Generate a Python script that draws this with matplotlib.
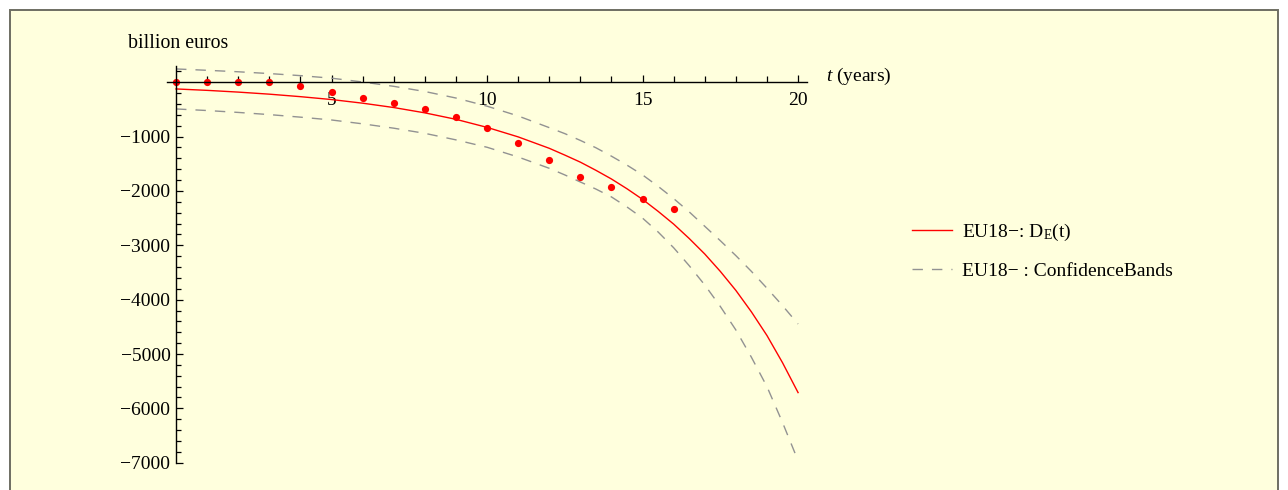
import matplotlib
matplotlib.use("Agg")
import matplotlib.pyplot as plt
from matplotlib.patches import Rectangle
from matplotlib.ticker import FixedLocator

# data (billion euros)
years = [0, 1, 2, 3, 4, 5, 6, 7, 8, 9, 10, 11, 12, 12.5, 13, 13.5, 14, 14.5,
         15, 15.5, 16, 16.5, 17, 17.5, 18, 18.5, 19, 19.5, 20]
fit_curve = [-123, -149, -181, -219, -265, -318, -385, -465, -563, -682, -830,
             -1005, -1215, -1340, -1470, -1620, -1780, -1960, -2155, -2375,
             -2610, -2875, -3160, -3480, -3830, -4225, -4660, -5160, -5710]
upper_band = [245, 220, 193, 160, 122, 75, 5, -75, -170, -290, -440,
              -620, -835, -945, -1070, -1205, -1360, -1525, -1705, -1915,
              -2140, -2385, -2650, -2915, -3190, -3480, -3790, -4110, -4448]
lower_band = [-491, -520, -555, -595, -642, -694, -765, -845, -940, -1060, -1196,
              -1375, -1583, -1705, -1835, -1965, -2110, -2295, -2500, -2755,
              -3045, -3375, -3730, -4125, -4558, -5060, -5601, -6260, -6963]

obs_years = list(range(0, 17))
obs_debt = [0, 0, 0, 0, -62, -184, -289, -387, -497, -645, -847,
            -1117, -1430, -1749, -1927, -2153, -2332]

plt.rcParams["font.family"] = ["Liberation Serif", "DejaVu Serif"]
plt.rcParams["mathtext.fontset"] = "custom"
plt.rcParams["mathtext.rm"] = "Liberation Serif"
plt.rcParams["mathtext.it"] = "Liberation Serif:italic"

W, H = 1288, 490
fig = plt.figure(figsize=(W / 100, H / 100), dpi=100, facecolor="white")

# pale yellow panel with grey frame (bottom edge runs off the picture)
fig.patches.append(Rectangle((10 / W, -0.05), 1268 / W, 1.05 - 10 / H,
                             transform=fig.transFigure, facecolor="#ffffdd",
                             edgecolor="#6e6e62", lw=1.4, zorder=-10))

ax = fig.add_axes([166.7 / W, 1 - 462.7 / H, 640.7 / W, 396.2 / H])
ax.set_facecolor("none")
ax.set_xlim(-0.3, 20.3)
ax.set_ylim(-7000, 290)

band_style = dict(color="#929292", lw=1.0, dashes=(7.5, 6.5), zorder=2)
ax.plot(years, upper_band, **band_style)
ax.plot(years, lower_band, **band_style)
ax.plot(years, fit_curve, color="#ff0000", lw=1.0, zorder=2)
ax.plot(obs_years, obs_debt, "o", color="#ff0000", ms=5.2, mec="none", zorder=2)

for side in ("top", "right"):
    ax.spines[side].set_visible(False)
ax.spines["left"].set_position(("data", 0))
ax.spines["bottom"].set_position(("data", 0))
for side in ("left", "bottom"):
    ax.spines[side].set_linewidth(1.0)
    ax.spines[side].set_zorder(3)

ax.xaxis.set_major_locator(FixedLocator([5, 10, 15, 20]))
ax.xaxis.set_minor_locator(FixedLocator([t for t in range(1, 20) if t % 5]))
ax.yaxis.set_major_locator(FixedLocator(list(range(-7000, 0, 1000))))
ax.yaxis.set_minor_locator(FixedLocator([v for v in range(-6800, 201, 200) if v % 1000]))

ax.tick_params(axis="x", which="major", direction="in", length=5, width=0.9,
               labelsize=14, pad=7)
ax.tick_params(axis="x", which="minor", direction="in", length=4, width=0.9)
ax.tick_params(axis="y", which="major", direction="in", length=5, width=0.9,
               labelsize=14, pad=4)
ax.tick_params(axis="y", which="minor", direction="in", length=3.4, width=0.9)

fig.text(128 / W, 1 - 43 / H, "billion euros", fontsize=14.3, va="center", ha="left")
fig.text(826 / W, 1 - 76 / H, r"$\mathit{t}$ (years)", fontsize=14, va="center", ha="left")

ax.plot([], [], color="#ff0000", lw=1.0, label="EU18\u2212: D$_{\\mathrm{E}}$(t)")
ax.plot([], [], label="EU18\u2212 : ConfidenceBands", **band_style)
handles, labels = ax.get_legend_handles_labels()
fig.legend(handles[-2:], labels[-2:], loc="center left",
           bbox_to_anchor=(912 / W, 1 - 250.5 / H), frameon=False, fontsize=14,
           handlelength=2.05, handletextpad=0.5, labelspacing=1.0,
           borderpad=0, borderaxespad=0)

fig.savefig("out.png", dpi=100, facecolor="white")
